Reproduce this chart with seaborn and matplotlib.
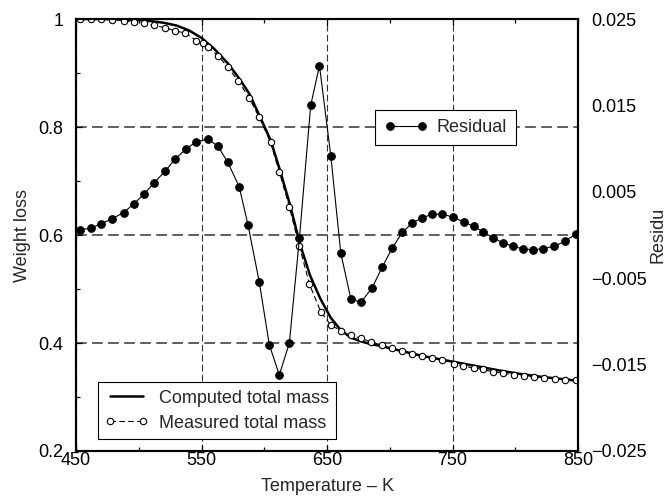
import numpy as np
import matplotlib
matplotlib.use("Agg")
import matplotlib.pyplot as plt
import seaborn as sns

# temperatures of the measured points (K)
temp_measured = [453, 462, 470, 479, 488, 496, 504, 512, 521, 529, 537, 546, 551, 555,
                 563, 571, 579, 588, 596, 605, 612, 620, 628, 636, 645, 653, 661, 669,
                 677, 685, 694, 702, 710, 718, 726, 734, 742, 751, 758, 767, 774, 782,
                 790, 799, 807, 815, 823, 832, 840, 848]
measured_mass = [1.000, 1.000, 1.000, 0.999, 0.997, 0.994, 0.992, 0.988, 0.984, 0.978,
                 0.974, 0.960, 0.955, 0.948, 0.932, 0.911, 0.886, 0.854, 0.818, 0.772,
                 0.717, 0.652, 0.579, 0.509, 0.458, 0.433, 0.423, 0.414, 0.409, 0.402,
                 0.396, 0.390, 0.385, 0.379, 0.375, 0.372, 0.369, 0.362, 0.357, 0.354,
                 0.351, 0.347, 0.344, 0.341, 0.339, 0.337, 0.336, 0.334, 0.332, 0.331]

# computed curve
temp_computed = [450, 470, 490, 500, 510, 520, 530, 540, 550, 560, 571, 580, 588, 596,
                 605, 612.5, 620.5, 628.5, 636.5, 644.7, 652.9, 660.9, 669, 677, 685,
                 694, 702, 710, 726, 742, 758, 774, 790, 806, 822, 838, 850]
computed_mass = [1.000, 1.000, 0.999, 0.998, 0.996, 0.993, 0.988, 0.979, 0.965, 0.945,
                 0.918, 0.890, 0.862, 0.822, 0.776, 0.720, 0.656, 0.583, 0.525, 0.482,
                 0.447, 0.424, 0.410, 0.403, 0.398, 0.394, 0.389, 0.385, 0.376, 0.369,
                 0.362, 0.355, 0.348, 0.342, 0.337, 0.333, 0.330]

# residual
temp_residual = [453, 462, 470, 479, 488, 496, 504, 512, 521, 529, 538, 546, 555, 563,
                 571, 580, 587, 596, 604, 612, 620, 628, 637, 644, 653, 661, 669, 677,
                 686, 694, 702, 710, 718, 726, 734, 742, 750, 759, 767, 774, 782, 790,
                 798, 806, 814, 822, 831, 840, 848]
residual = [0.0006, 0.0008, 0.0013, 0.0019, 0.0026, 0.0036, 0.0047, 0.0060, 0.0074,
            0.0088, 0.0100, 0.0108, 0.0111, 0.0103, 0.0084, 0.0056, 0.0012, -0.0054,
            -0.0127, -0.0162, -0.0125, -0.0004, 0.0150, 0.0196, 0.0092, -0.0021,
            -0.0074, -0.0078, -0.0061, -0.0037, -0.0015, 0.0003, 0.0014, 0.0020,
            0.0024, 0.0024, 0.0021, 0.0015, 0.0010, 0.0004, -0.0003, -0.0009,
            -0.0013, -0.0016, -0.0017, -0.0016, -0.0013, -0.0007, 0.0001]

temp_ticks = [450, 550, 650, 750, 850]
temp_minor = [500, 600, 700, 800]
weight_ticks = [0.2, 0.4, 0.6, 0.8, 1.0]
weight_labels = ["0.2", "0.4", "0.6", "0.8", "1"]
weight_minor = [0.3, 0.5, 0.7, 0.9]
resid_ticks = [0.025, 0.015, 0.005, -0.005, -0.015, -0.025]
resid_labels = ["0.025", "0.015", "0.005", "\u22120.005", "\u22120.015", "\u22120.025"]

sns.set_theme(style="ticks")
plt.rcParams['font.family'] = ['Liberation Sans', 'DejaVu Sans']
fs = 13

fig = plt.figure(figsize=(6.69, 4.99), dpi=100)
ax = fig.add_axes([0.1136, 0.0962, 0.7504, 0.8657])

sns.lineplot(x=temp_computed, y=computed_mass, ax=ax, color="black", linewidth=1.8,
             label="Computed total mass", zorder=3)
sns.lineplot(x=temp_measured, y=measured_mass, ax=ax, color="black", linewidth=0.8,
             linestyle=(0, (5, 3)), marker="o", markersize=4.6, markerfacecolor="white",
             markeredgecolor="black", markeredgewidth=0.8,
             label="Measured total mass", zorder=4)

ax.set_xlim(450, 850)
ax.set_ylim(0.2, 1.0)
ax.set_xticks(temp_ticks)
ax.set_xticks(temp_minor, minor=True)
ax.set_yticks(weight_ticks, labels=weight_labels)
ax.set_yticks(weight_minor, minor=True)
ax.tick_params(which="both", direction="in", top=True, right=True, colors="black",
               labelsize=fs)
ax.tick_params(which="major", length=4, width=0.9)
ax.tick_params(which="minor", length=3, width=0.9)
ax.tick_params(axis="y", pad=9)
ax.tick_params(axis="x", pad=1)

ax.grid(False)
ax.grid(axis="x", which="major", color="#333333", linestyle=(0, (6, 3)), linewidth=0.8)
ax.grid(axis="y", which="major", color="#333333", linestyle=(0, (7, 3.5)), linewidth=1.1)
ax.set_axisbelow(True)

ax.set_xlabel("Temperature \u2013 K", fontsize=fs, labelpad=6)
ax.set_ylabel("Weight loss", fontsize=fs, labelpad=5)

ax.legend(loc="lower left", bbox_to_anchor=(0.043, 0.028), borderaxespad=0,
          numpoints=2, handlelength=2.4, fontsize=fs, frameon=True, fancybox=False,
          framealpha=1, edgecolor="black", borderpad=0.4, labelspacing=0.45,
          handletextpad=0.6)
ax.get_legend().get_frame().set_linewidth(0.8)

ax2 = ax.twinx()
sns.lineplot(x=temp_residual, y=residual, ax=ax2, color="black", linewidth=0.8,
             marker="o", markersize=5.5, markerfacecolor="black",
             markeredgecolor="black", label="Residual")
ax2.set_ylim(-0.025, 0.025)
ax2.set_yticks(resid_ticks, labels=resid_labels)
ax2.grid(False)
ax2.tick_params(axis="y", length=0, labelsize=fs, pad=9.5, colors="black")
ax2.set_ylabel("Residu", fontsize=fs, labelpad=2)
ax2.legend(loc="upper left", bbox_to_anchor=(0.596, 0.789), borderaxespad=0,
           numpoints=2, handlelength=2.4, fontsize=fs, frameon=True, fancybox=False,
           framealpha=1, edgecolor="black", borderpad=0.5, handletextpad=0.5)
ax2.get_legend().get_frame().set_linewidth(0.8)

for a in (ax, ax2):
    for s in a.spines.values():
        s.set_color("black")
        s.set_linewidth(1.5)

fig.savefig("out.png", dpi=100)
